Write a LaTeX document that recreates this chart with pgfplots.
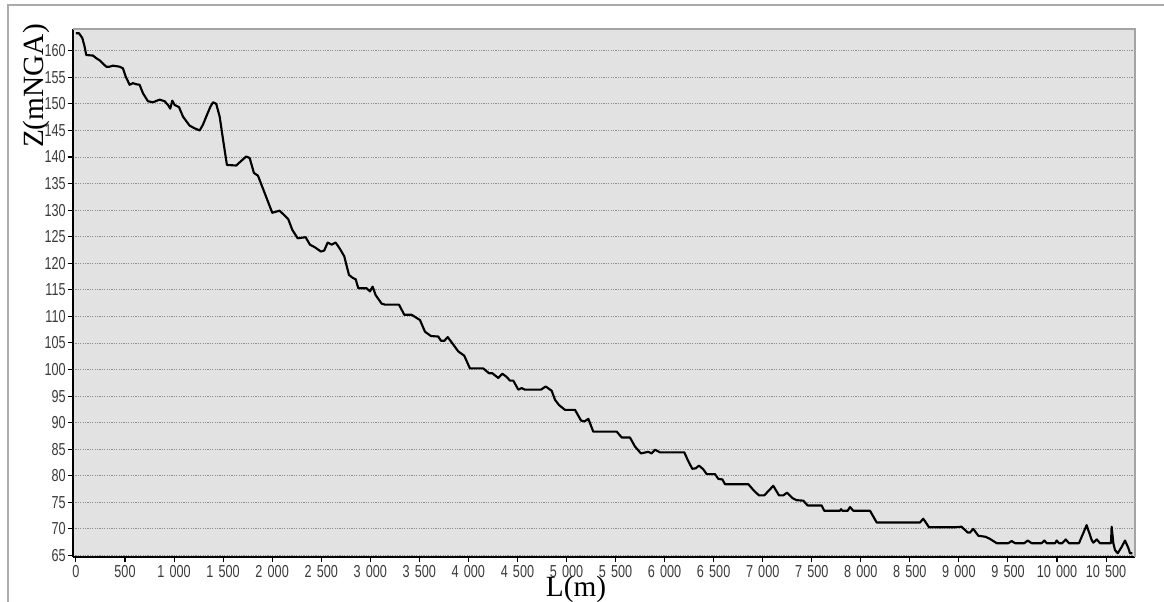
\documentclass[border=0pt]{standalone}
\usepackage{fontspec}
\setmainfont{Liberation Sans}
\newfontfamily\labelserif{Liberation Serif}
\newfontfamily\ticknarrow[FakeStretch=0.73]{Liberation Sans}
\usepackage{pgfplots}
\pgfplotsset{compat=1.18}

\definecolor{plotbg}{HTML}{E2E2E2}
\definecolor{gridgray}{HTML}{8E8E8E}
\definecolor{bordergray}{HTML}{A4A4A4}
\definecolor{framegray}{HTML}{ABABAB}
\definecolor{ticktext}{HTML}{3A3A3A}

% Longitudinal profile: distance L (m) versus ground level Z (m NGA)
\pgfplotstableread{
L Z
0 163.3
31 163.3
65 162.4
88 160.8
105 159.2
173 159.1
207 158.6
241 158.2
309 157.0
343 157.0
377 157.2
445 157.0
479 156.7
506 155.2
547 153.6
581 153.9
615 153.7
649 153.6
683 152.0
734 150.5
785 150.3
853 150.8
904 150.5
938 149.8
961 149.1
982 150.6
1006 149.8
1050 149.4
1091 147.6
1159 145.9
1210 145.4
1261 145.0
1295 146.1
1328 147.6
1369 149.4
1397 150.3
1430 150.0
1465 147.6
1505 142.6
1539 138.5
1634 138.4
1669 139.0
1736 140.1
1771 139.8
1814 137.0
1855 136.5
1924 133.2
2001 129.5
2076 129.9
2164 128.3
2205 126.3
2260 124.7
2341 124.9
2385 123.5
2436 123.0
2497 122.2
2531 122.4
2566 123.9
2607 123.5
2647 123.9
2691 122.7
2735 121.3
2783 117.8
2825 117.2
2851 117.0
2878 115.3
2963 115.3
2997 114.7
3024 115.6
3055 114.0
3116 112.4
3150 112.2
3293 112.2
3347 110.3
3422 110.3
3473 109.7
3507 109.3
3558 107.1
3619 106.3
3693 106.2
3721 105.4
3755 105.4
3789 106.1
3830 105.1
3897 103.4
3958 102.6
4016 100.2
4152 100.2
4210 99.3
4244 99.3
4305 98.4
4346 99.2
4390 98.6
4424 97.9
4458 97.9
4509 96.2
4543 96.5
4577 96.2
4740 96.2
4788 96.8
4849 96.0
4883 94.3
4924 93.3
4985 92.4
5087 92.4
5148 90.4
5182 90.2
5223 90.7
5273 88.3
5512 88.3
5563 87.2
5647 87.2
5698 85.5
5759 84.2
5834 84.5
5868 84.2
5902 84.9
5953 84.4
6201 84.4
6235 83.0
6282 81.3
6317 81.4
6351 81.9
6395 81.2
6429 80.3
6514 80.3
6548 79.4
6589 79.3
6616 78.4
6854 78.4
6905 77.3
6962 76.3
7016 76.3
7057 77.1
7108 78.1
7166 76.3
7210 76.3
7248 76.8
7302 75.8
7346 75.4
7414 75.3
7458 74.4
7601 74.4
7628 73.4
7788 73.4
7798 73.7
7811 73.4
7866 73.4
7890 74.1
7924 73.4
8094 73.4
8162 71.2
8603 71.2
8637 71.9
8695 70.3
8960 70.3
9028 70.4
9089 69.3
9113 69.3
9146 70.0
9198 68.7
9273 68.5
9317 68.1
9385 67.3
9504 67.3
9538 67.7
9572 67.3
9667 67.3
9701 67.8
9742 67.3
9843 67.3
9871 67.8
9895 67.3
9980 67.3
9997 67.8
10020 67.3
10054 67.3
10089 68.0
10122 67.3
10224 67.3
10302 70.7
10353 67.9
10370 67.4
10405 68.0
10438 67.3
10550 67.3
10557 70.4
10574 67.3
10591 66.0
10619 65.4
10659 66.6
10693 67.8
10727 66.4
10744 65.4
10768 65.4
}\profile

\begin{document}
\begin{tikzpicture}
\useasboundingbox (-54.75pt,-33.75pt) rectangle (818.25pt,417.75pt);
% outer frame of the figure
\draw[framegray, line width=1.1pt] (-48.75pt,-60pt) -- (-48.75pt,414pt) -- (840pt,414pt);
\begin{axis}[
  at={(0pt,0pt)}, anchor=south west,
  scale only axis, width=796.5pt, height=396pt,
  xmin=-30, xmax=10795, ymin=64.7, ymax=164.1,
  xtick={0,500,...,10500}, ytick={65,70,...,160},
  axis background/.style={fill=plotbg},
  ymajorgrids,
  grid style={gridgray, line width=0.6pt, dash pattern=on 0.9pt off 0.9pt},
  axis x line*=bottom, axis y line*=left,
  axis line style={black, line width=1.2pt, -},
  tick style={black, line width=0.8pt},
  major tick length=4pt, tick align=outside,
  tick label style={font=\ticknarrow\fontsize{13}{14}\selectfont, color=ticktext},
  xticklabel style={yshift=1pt},
  yticklabel style={xshift=2pt},
  /pgf/number format/assume math mode=true,
  /pgf/number format/1000 sep={\hspace{0.3em}},
  scaled x ticks=false,
  xlabel={L(m)},
  xlabel style={at={(axis description cs:0.4736,-0.061)}, anchor=center,
    font=\labelserif\fontsize{22}{24}\selectfont, black},
  ylabel={Z(mNGA)},
  ylabel style={at={(axis description cs:-0.0348,0.892)}, anchor=center,
    font=\labelserif\fontsize{22}{24}\selectfont, black},
  clip=false,
]
\draw[bordergray, line width=1.5pt] (rel axis cs:0,1) -- (rel axis cs:1,1) -- (rel axis cs:1,0);
\addplot[black, line width=1.6pt, line join=round, mark=none] table[x=L, y=Z] {\profile};
\end{axis}
\end{tikzpicture}
\end{document}
